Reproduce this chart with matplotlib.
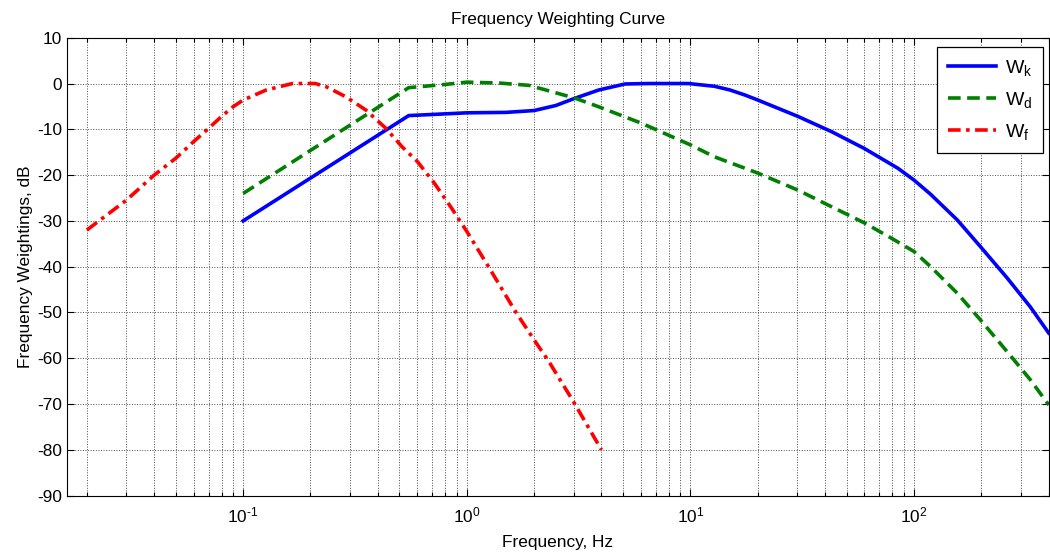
import matplotlib
matplotlib.use("Agg")
import matplotlib.pyplot as plt
import matplotlib.ticker as mt
import numpy as np

plt.rcParams['font.family'] = ['Liberation Sans', 'DejaVu Sans']
plt.rcParams['mathtext.fontset'] = 'custom'
plt.rcParams['mathtext.rm'] = 'Liberation Sans'
plt.rcParams['mathtext.it'] = 'Liberation Sans'
plt.rcParams['mathtext.default'] = 'regular'
plt.rcParams['axes.unicode_minus'] = False

# values
wk_f = [0.1, 0.55, 1.0, 1.5, 2.0, 2.5, 3.05, 3.9, 5.1, 6.5, 9.8, 12.8, 15, 17.5, 20,
        30.3, 42.7, 60, 84.6, 100, 118.6, 156, 197, 261, 331, 400]
wk_db = [-30, -7.0, -6.4, -6.3, -5.9, -4.8, -3.2, -1.4, -0.1, 0, 0, -0.6, -1.4, -2.5, -3.6,
         -7.2, -10.5, -14.2, -18.5, -21.1, -24.2, -29.8, -35.5, -42.5, -48.8, -54.5]

wd_f = [0.1, 0.55, 0.8, 1.0, 1.4, 1.9, 3.05, 3.9, 6.06, 10, 12.8, 20.1, 30.3,
        42.7, 60.3, 79.3, 100, 118.6, 156, 197, 261, 331, 400]
wd_db = [-24, -0.9, -0.2, 0.3, 0.1, -0.4, -3.2, -5.1, -8.7, -13.4, -16.0, -19.6,
         -23.3, -26.9, -30.5, -33.8, -36.7, -40.0, -45.8, -51.5, -58.6, -64.7, -70.2]

wf_f = [0.02, 0.03, 0.04, 0.05, 0.06, 0.07, 0.08, 0.09, 0.1, 0.127, 0.166, 0.21,
        0.235, 0.288, 0.354, 0.435, 0.513, 0.6, 0.712, 0.857, 1.0, 1.25,
        1.65, 2.0, 2.32, 3.0, 4.0]
wf_db = [-32, -25.5, -20, -16.3, -12.7, -9.8, -7.2, -5.1, -3.6, -1.4, 0, 0,
         -0.7, -2.9, -5.8, -9.8, -13.8, -17.0, -21.6, -27.3, -32.3, -40,
         -49.8, -56, -60.6, -69.5, -80]


def dec_label(v, pos):
    e = int(round(np.log10(v)))
    if e < 0:
        return r'$10^{\text{-}%d}$' % (-e)
    return r'$10^{%d}$' % e


fig = plt.figure(figsize=(10.5, 5.55), dpi=100)
ax = fig.add_axes([0.0638, 0.107, 0.935, 0.825])

ax.semilogx(wk_f, wk_db, '-', color='#0000ff', lw=2.6, label=r'$W_k$')
ax.semilogx(wd_f, wd_db, '--', color='#008000', lw=2.6, dashes=(3.5, 1.8), label=r'$W_d$')
ax.semilogx(wf_f, wf_db, '-.', color='#ff0000', lw=2.6, dashes=(3.5, 1.5, 1, 1.5), label=r'$W_f$')

ax.set_xlim(0.0163, 400)
ax.set_ylim(-90, 10)
ax.set_yticks(range(-90, 11, 10))
ax.xaxis.set_major_locator(mt.LogLocator(base=10))
ax.xaxis.set_minor_locator(mt.LogLocator(base=10, subs=range(2, 10)))
ax.xaxis.set_major_formatter(mt.FuncFormatter(dec_label))

ax.grid(True, which='major', ls=':', color='0.3', lw=0.7)
ax.grid(True, which='minor', axis='x', ls=':', color='0.3', lw=0.7)
ax.tick_params(which='both', direction='in', top=True, right=True, labelsize=12.4)
ax.tick_params(axis='x', which='major', pad=7)
ax.tick_params(which='major', length=5, width=0.8)
ax.tick_params(which='minor', length=3, width=0.8)

ax.set_title('Frequency Weighting Curve', fontsize=12.4, pad=10)
ax.set_xlabel('Frequency, Hz', fontsize=12.4, labelpad=7)
ax.set_ylabel('Frequency Weightings, dB', fontsize=12.4, labelpad=3)

leg = ax.legend(loc='upper right', bbox_to_anchor=(0.9942, 0.9797), fontsize=14,
                fancybox=False, framealpha=1, edgecolor='black', handlelength=2.5,
                handletextpad=0.45, borderaxespad=0, borderpad=0.55, labelspacing=0.62)
leg.get_frame().set_linewidth(0.9)

plt.savefig('out.png', dpi=100)
